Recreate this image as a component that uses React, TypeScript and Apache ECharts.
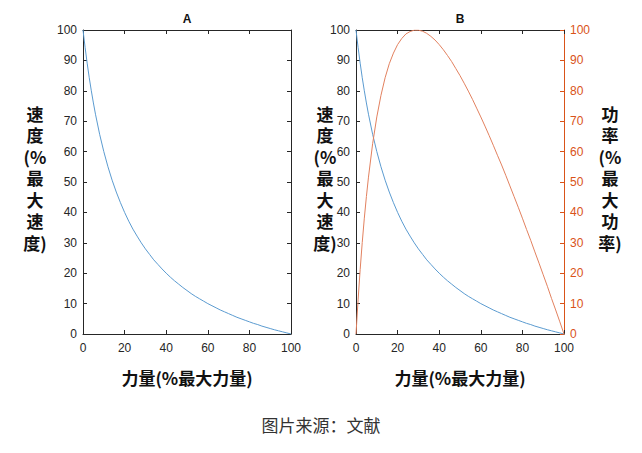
import React, { useEffect, useRef } from "react";
import * as echarts from "echarts";

// Force (% of max force)
const force = [0, 1, 2, 3, 4, 5, 6, 8, 10, 12, 14, 16, 18, 20, 22, 24, 26, 28, 30, 32, 34, 36, 38, 40, 42, 44, 46, 48, 50, 52, 54, 56, 58, 60, 62, 64, 66, 68, 70, 72, 74, 76, 78, 80, 82, 84, 86, 88, 90, 92, 94, 96, 98, 100];
// Velocity (% of max velocity)
const velocity = [100, 94.3, 89.1, 84.3, 80.0, 76.0, 72.3, 65.7, 60.0, 55.0, 50.6, 46.7, 43.2, 40.0, 37.1, 34.5, 32.2, 30.0, 28.0, 26.2, 24.4, 22.9, 21.4, 20.0, 18.7, 17.5, 16.4, 15.3, 14.3, 13.3, 12.4, 11.6, 10.8, 10.0, 9.3, 8.6, 7.9, 7.3, 6.7, 6.1, 5.5, 5.0, 4.5, 4.0, 3.5, 3.1, 2.6, 2.2, 1.8, 1.4, 1.05, 0.7, 0.35, 0];
// Power (% of max power)
const power = [0, 11.2, 21.2, 30.1, 38.1, 45.2, 51.6, 62.6, 71.4, 78.5, 84.3, 88.9, 92.4, 95.2, 97.2, 98.7, 99.5, 99.95, 99.95, 99.6, 98.9, 97.9, 96.7, 95.2, 93.5, 91.6, 89.6, 87.3, 85.0, 82.5, 79.9, 77.2, 74.3, 71.4, 68.4, 65.3, 62.1, 58.8, 55.6, 52.2, 48.7, 45.2, 41.7, 38.1, 34.4, 30.8, 27.0, 23.3, 19.5, 15.7, 11.7, 7.9, 4.0, 0];

const panelTitles = ["A", "B"];
const xTitle = "力量(%最大力量)";
const yTitleLeft = ["速", "度", "(%", "最", "大", "速", "度)"];
const yTitleRight = ["功", "率", "(%", "最", "大", "功", "率)"];
const caption = "图片来源：文献";

const AXIS = "#262626";
const ORANGE = "#D95319";
const BLUE_LINE = "#5b9bd0";
const ORANGE_LINE = "#e2815f";

export default function App() {
  const ref = useRef<HTMLDivElement>(null);
  useEffect(() => {
    if (!ref.current) return;
    const chart = echarts.init(ref.current, undefined, { renderer: "svg" });
    const vel = force.map((f, i) => [f, velocity[i]]);
    const pow = force.map((f, i) => [f, power[i]]);

    const labelStyle = (color: string) => ({
      color,
      fontSize: 12,
      fontFamily: "Liberation Sans, Arial, sans-serif",
    });

    const xAx = (gridIndex: number, position: "top" | "bottom", showLabel: boolean) => ({
      type: "value",
      gridIndex,
      position,
      min: 0,
      max: 100,
      interval: 20,
      axisLine: { show: true, onZero: false, lineStyle: { color: AXIS, width: 1 } },
      axisTick: { show: true, inside: true, length: 4, lineStyle: { color: AXIS } },
      axisLabel: { show: showLabel, margin: 8, ...labelStyle(AXIS) },
      splitLine: { show: false },
    });
    const yAx = (gridIndex: number, position: "left" | "right", showLabel: boolean, color: string) => ({
      type: "value",
      gridIndex,
      position,
      min: 0,
      max: 100,
      interval: 10,
      axisLine: { show: true, onZero: false, lineStyle: { color, width: 1 } },
      axisTick: { show: true, inside: true, length: 4, lineStyle: { color } },
      axisLabel: { show: showLabel, margin: 6, ...labelStyle(color) },
      splitLine: { show: false },
    });

    const cjkBold = {
      fontSize: 17,
      fontWeight: "bold",
      fontFamily: "Noto Sans CJK SC, sans-serif",
      fill: "#111",
    };

    const vertTitle = (x: number, lines: string[]) =>
      lines.map((t, i) => ({
        type: "text",
        x,
        y: 113 + i * 21.5,
        style: {
          text: t,
          ...cjkBold,
          textAlign: "center",
          textVerticalAlign: "middle",
        },
      }));

    chart.setOption({
      animation: false,
      backgroundColor: "#ffffff",
      grid: [
        { left: 83, top: 30, width: 208, height: 304 },
        { left: 356, top: 30, width: 208, height: 304 },
      ],
      xAxis: [xAx(0, "bottom", true), xAx(0, "top", false), xAx(1, "bottom", true), xAx(1, "top", false)],
      yAxis: [
        yAx(0, "left", true, AXIS),
        yAx(0, "right", false, AXIS),
        yAx(1, "left", true, AXIS),
        yAx(1, "right", true, ORANGE),
      ],
      series: [
        {
          type: "line",
          xAxisIndex: 0,
          yAxisIndex: 0,
          data: vel,
          showSymbol: false,
          symbol: "none",
          lineStyle: { color: BLUE_LINE, width: 1 },
        },
        {
          type: "line",
          xAxisIndex: 2,
          yAxisIndex: 2,
          data: vel,
          showSymbol: false,
          symbol: "none",
          lineStyle: { color: BLUE_LINE, width: 1 },
        },
        {
          type: "line",
          xAxisIndex: 2,
          yAxisIndex: 3,
          data: pow,
          showSymbol: false,
          symbol: "none",
          lineStyle: { color: ORANGE_LINE, width: 1 },
        },
      ],
      graphic: [
        {
          type: "text",
          x: 187,
          y: 19,
          style: { text: panelTitles[0], fontSize: 12, fontWeight: "bold", fontFamily: "Liberation Sans, Arial, sans-serif", fill: "#111", textAlign: "center", textVerticalAlign: "middle" },
        },
        {
          type: "text",
          x: 460,
          y: 19,
          style: { text: panelTitles[1], fontSize: 12, fontWeight: "bold", fontFamily: "Liberation Sans, Arial, sans-serif", fill: "#111", textAlign: "center", textVerticalAlign: "middle" },
        },
        ...vertTitle(35, yTitleLeft),
        ...vertTitle(325, yTitleLeft),
        ...vertTitle(610, yTitleRight),
        {
          type: "text",
          x: 187,
          y: 377,
          style: { text: xTitle, ...cjkBold, textAlign: "center", textVerticalAlign: "middle" },
        },
        {
          type: "text",
          x: 460,
          y: 377,
          style: { text: xTitle, ...cjkBold, textAlign: "center", textVerticalAlign: "middle" },
        },
        {
          type: "text",
          x: 321,
          y: 424,
          style: { text: caption, fontSize: 17, fontFamily: "Noto Sans CJK SC, sans-serif", fill: "#333", textAlign: "center", textVerticalAlign: "middle" },
        },
      ],
    });
    return () => chart.dispose();
  }, []);
  return (
    <div
      ref={ref}
      style={{ position: "fixed", left: 0, top: 0, width: 642, height: 453, background: "#fff" }}
    />
  );
}
